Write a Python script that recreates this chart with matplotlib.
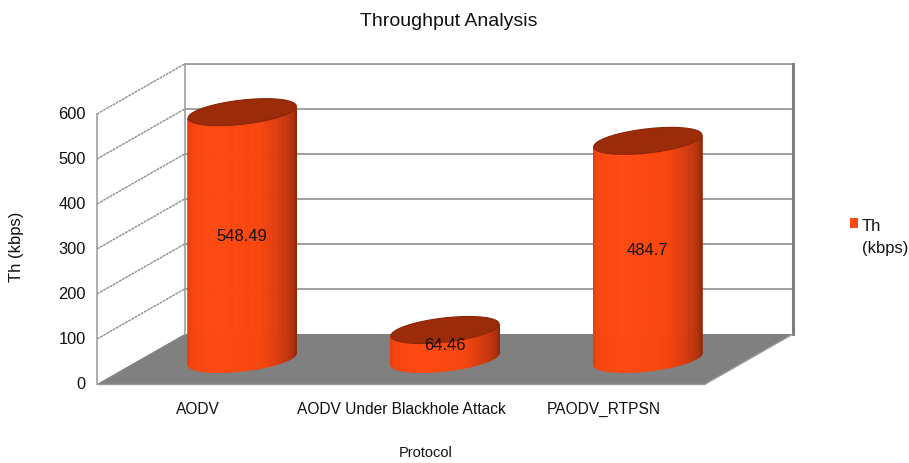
import matplotlib
matplotlib.use('Agg')
import matplotlib.pyplot as plt
import numpy as np
from matplotlib.patches import Polygon

plt.rcParams['font.family'] = ['Liberation Sans', 'DejaVu Sans']

protocols = ['AODV', 'AODV Under Blackhole Attack', 'PAODV_RTPSN']
throughput = [548.49, 64.46, 484.7]
yticks = [0, 100, 200, 300, 400, 500, 600]
series_name = 'Th\n(kbps)'

# oblique depth offset (category units, value units) for z going 0 -> 1
DX, DV = 0.432, 111.1
VMAX = 600


def proj(x, v, z):
    return x + z * DX, v + z * DV


fig = plt.figure(figsize=(9.09, 4.64), dpi=100)
ax = fig.add_axes([97 / 909, (464 - 385) / 464, 696 / 909, 320 / 464])
ax.set_xlim(-0.5, 2.5 + DX)
ax.set_ylim(0, VMAX + DV)
ax.axis('off')

x0, x1 = -0.5, 2.5
# floor
floor = [proj(x0, 0, 0), proj(x1, 0, 0), proj(x1, 0, 1), proj(x0, 0, 1)]
ax.add_patch(Polygon(floor, closed=True, fc='#808080', ec='none', zorder=1))
ax.plot([floor[0][0], floor[1][0]], [0, 0], color='#9a9a9a', lw=1, zorder=1.5, clip_on=False)
ax.plot([floor[1][0], floor[2][0]], [floor[1][1], floor[2][1]], color='#9a9a9a', lw=1, zorder=1.5)

# back wall border and gridlines
bx0, bv0 = proj(x0, 0, 1)
bx1, bv1 = proj(x1, VMAX, 1)
for t in yticks[1:]:
    _, vb = proj(x0, t, 1)
    ax.plot([bx0, bx1], [vb, vb], color='#a0a0a0', lw=1.4, zorder=1.2)
ax.plot([bx0, bx1], [bv1, bv1], color='#a0a0a0', lw=1.4, zorder=1.2, clip_on=False)
ax.plot([bx0, bx0], [bv0, bv1], color='#a0a0a0', lw=1.2, zorder=1.2)
ax.plot([bx1, bx1], [bv0, bv1], color='#808080', lw=2.2, zorder=1.2, clip_on=False)

# left wall gridlines
for t in yticks[1:]:
    xa, va = proj(x0, t, 0)
    xb, vb = proj(x0, t, 1)
    ax.plot([xa, xb], [va, vb], color='#8c8c8c', lw=1.0, ls=(0, (2, 0.6)), zorder=1.2, clip_on=False)
ax.plot([x0, x0], [0, VMAX], color='#a0a0a0', lw=1.2, zorder=1.3, clip_on=False)

# y tick labels
for t in yticks:
    ax.text(x0 - 0.055, t, str(t), ha='right', va='center', fontsize=11.8, color='#111111', clip_on=False)

# cylinders
rx, rz, zc = 0.24, 0.27, 0.5
theta_s = np.arctan2(rz * DX * 203.7, rx * 203.7)
side_cmap = matplotlib.colors.LinearSegmentedColormap.from_list(
    'side', [(0.0, '#e23c0e'), (0.12, '#f7450f'), (0.35, '#ff4a12'), (0.62, '#f7460f'),
             (0.8, '#c93810'), (0.93, '#a6300c'), (1.0, '#8e2a0a')])

for i, val in enumerate(throughput):
    th = np.linspace(theta_s + np.pi, theta_s + 2 * np.pi, 80)
    xs = i + rx * np.cos(th)
    zs = zc + rz * np.sin(th)
    for k in range(len(th) - 1):
        xa, va = proj(xs[k], 0, zs[k])
        xb, vb = proj(xs[k + 1], 0, zs[k + 1])
        xc, vc = proj(xs[k + 1], val, zs[k + 1])
        xd, vd = proj(xs[k], val, zs[k])
        col = side_cmap(k / (len(th) - 2))
        ax.add_patch(Polygon([(xa, va), (xb, vb), (xc, vc), (xd, vd)], closed=True,
                             fc=col, ec=col, lw=0.6, zorder=3))
    ta = np.linspace(0, 2 * np.pi, 120)
    top = [proj(i + rx * np.cos(a), val, zc + rz * np.sin(a)) for a in ta]
    ax.add_patch(Polygon(top, closed=True, fc='#9b2b09', ec='#8a2607', lw=0.8, zorder=4))
    lx, lv = proj(i, val / 2, zc)
    ax.text(lx, lv, f'{val:g}', ha='center', va='center', fontsize=12, color='#111111', zorder=5)

# category labels
for i, name in enumerate(protocols):
    ax.text(i, -38, name, ha='center', va='top', fontsize=11.2, color='#111111', clip_on=False)

fig.text(449 / 909, 1 - 22 / 464, 'Throughput Analysis', ha='center', va='center', fontsize=14, color='#111111')
fig.text(426 / 909, 1 - 453 / 464, 'Protocol', ha='center', va='center', fontsize=10.5, color='#111111')
fig.text(16 / 909, 1 - 247 / 464, 'Th (kbps)', ha='center', va='center', rotation=90, fontsize=12,
         color='#111111')

# legend
fig.patches.append(matplotlib.patches.Rectangle((850 / 909, 1 - 229 / 464), 8 / 909, 10 / 464,
                                                transform=fig.transFigure, fc='#ff4a12', ec='none'))
fig.text(862 / 909, 1 - 219 / 464, series_name, ha='left', va='top', fontsize=12,
         linespacing=1.55, color='#111111')

fig.savefig('out.png', dpi=100)
